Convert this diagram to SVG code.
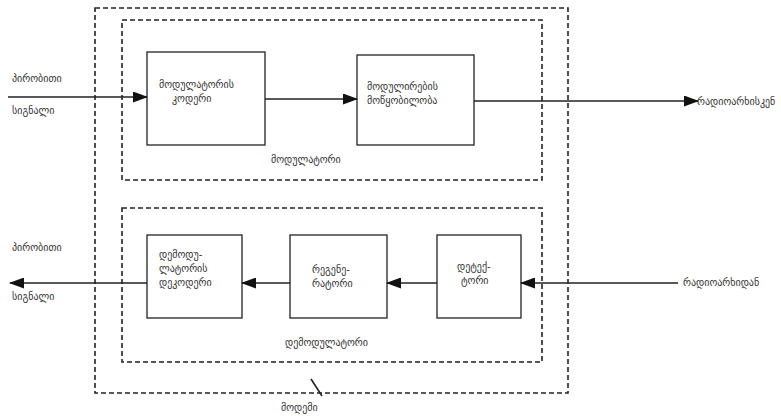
<svg xmlns="http://www.w3.org/2000/svg" width="781" height="417" viewBox="0 0 781 417">
<defs>
<marker id="ah" markerWidth="15" markerHeight="11" refX="14" refY="5.5" orient="auto" markerUnits="userSpaceOnUse">
<path d="M0,0 L15,5.5 L0,11 Z" fill="#111"/>
</marker>
</defs>
<style>
.bx{fill:#fff;stroke:#222;stroke-width:1.3}
.dash{fill:none;stroke:#222;stroke-width:1.6;stroke-dasharray:5,3}
.ln{fill:none;stroke:#222;stroke-width:1.6}
text{font-family:"DejaVu Sans","Noto Sans",sans-serif;font-size:10px;fill:#333}
</style>
<rect width="781" height="417" fill="#fff"/>
<g id="modem">
<rect class="dash" x="95" y="8" width="473" height="385"/>
<line class="ln" x1="311" y1="379" x2="322" y2="396"/>
<text x="281" y="411">მოდემი</text>
</g>
<g id="modulator">
<rect class="dash" x="122" y="20" width="420" height="160"/>
<text x="271" y="163">მოდულატორი</text>
</g>
<g id="demodulator">
<rect class="dash" x="122" y="208" width="420" height="154"/>
<text x="285" y="346">დემოდულატორი</text>
</g>
<g id="coder">
<rect class="bx" x="147" y="52" width="118" height="93"/>
<text x="159" y="88">მოდულატორის</text>
<text x="172" y="102">კოდერი</text>
</g>
<g id="moddevice">
<rect class="bx" x="357" y="55" width="117" height="90"/>
<text x="367" y="90">მოდულირების</text>
<text x="367" y="104">მოწყობილობა</text>
</g>
<g id="decoder">
<rect class="bx" x="147" y="235" width="95" height="83"/>
<text x="159" y="258">დემოდუ-</text>
<text x="159" y="272">ლატორის</text>
<text x="159" y="286">დეკოდერი</text>
</g>
<g id="regenerator">
<rect class="bx" x="290" y="235" width="97" height="83"/>
<text x="312" y="273">რეგენე-</text>
<text x="312" y="287">რატორი</text>
</g>
<g id="detector">
<rect class="bx" x="437" y="235" width="84" height="83"/>
<text x="457" y="270">დეტექ-</text>
<text x="461" y="284">ტორი</text>
</g>
<g id="labels">
<text x="12" y="82">პირობითი</text>
<text x="12" y="114">სიგნალი</text>
<text x="12" y="251">პირობითი</text>
<text x="12" y="300">სიგნალი</text>
<text x="697" y="105">რადიოარხისკენ</text>
<text x="683" y="286">რადიოარხიდან</text>
</g>
<g id="connectors">
<line class="ln" x1="8" y1="97" x2="147" y2="97" marker-end="url(#ah)"/>
<line class="ln" x1="265" y1="99" x2="357" y2="99" marker-end="url(#ah)"/>
<line class="ln" x1="474" y1="101" x2="698" y2="101" marker-end="url(#ah)"/>
<line class="ln" x1="678" y1="283" x2="521" y2="283" marker-end="url(#ah)"/>
<line class="ln" x1="437" y1="283" x2="387" y2="283" marker-end="url(#ah)"/>
<line class="ln" x1="290" y1="283" x2="242" y2="283" marker-end="url(#ah)"/>
<line class="ln" x1="147" y1="283" x2="10" y2="283" marker-end="url(#ah)"/>
</g>
</svg>
